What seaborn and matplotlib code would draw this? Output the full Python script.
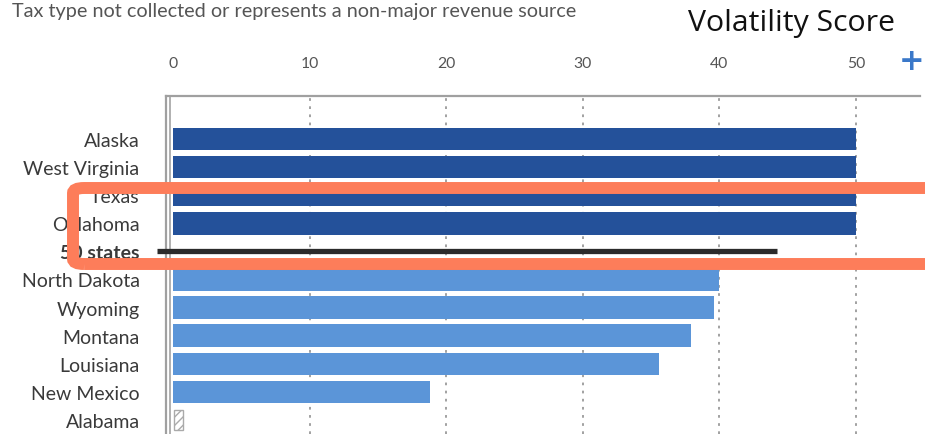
import matplotlib
matplotlib.use("Agg")
import matplotlib.pyplot as plt
from matplotlib.patches import FancyBboxPatch
import seaborn as sns
import pandas as pd
import numpy as np

# ---- data ----
states = ["Alaska", "West Virginia", "Texas", "Oklahoma", "50 states",
          "North Dakota", "Wyoming", "Montana", "Louisiana", "New Mexico", "Alabama"]
scores = [50, 50, 50, 50, 44.2, 40.0, 39.6, 37.9, 35.6, 18.8, np.nan]
groups = ["top", "top", "top", "top", "avg", "high", "high", "high", "high", "high", "none"]
placeholder_width = 0.7          # hatched "not collected" marker for Alabama
xticks = [0, 10, 20, 30, 40, 50]
note_text = "Tax type not collected or represents a non-major revenue source"
title_text = "Volatility Score"

palette = {"top": "#24519a", "high": "#5b95d8"}

sns.set_theme(style="white")
plt.rcParams["font.family"] = ["Lato", "DejaVu Sans"]

df = pd.DataFrame({"state": states, "score": scores, "group": groups})
bars = df[df["group"].isin(["top", "high"])]

fig = plt.figure(figsize=(9.25, 4.35), dpi=100)
ax = fig.add_axes([166 / 925, 0.0, (920 - 166) / 925, 1 - 97 / 435])

sns.barplot(data=bars, x="score", y="state", hue="group", order=states,
            palette=palette, dodge=False, orient="h", width=0.8, saturation=1,
            edgecolor="none", legend=False, ax=ax, zorder=3)

# 50 states average line
avg = df[df["group"] == "avg"].iloc[0]
ax.hlines(states.index(avg["state"]), -1.2, avg["score"], color="#2b2b2b",
          lw=3.8, zorder=4, clip_on=False)

# hatched placeholder (not collected)
nc = df[df["group"] == "none"].iloc[0]
ax.barh(states.index(nc["state"]), placeholder_width, height=0.68, left=0.05,
        facecolor="white", edgecolor="#aaaaaa", hatch="////", lw=1.0, zorder=3)

ax.set_xlim(-0.51, 54.7)
ax.set_ylim(10.5, -1.53)

# grid
for t in xticks[1:]:
    ax.axvline(t, color="#9a9a9a", lw=1.3, ls=(0, (1.5, 3)), zorder=1)
ax.axvline(-0.22, color="#b0b0b0", lw=1.4, zorder=2)

ax.xaxis.tick_top()
ax.set_xticks(xticks)
ax.set_xticklabels([str(t) for t in xticks], color="#555555", fontsize=11.3)
ax.tick_params(axis="x", length=0, pad=19)
ax.tick_params(axis="y", length=0, pad=19)
for lab in ax.get_yticklabels():
    lab.set_fontsize(14)
    lab.set_color("#3a3a3a")
    if lab.get_text() == "50 states":
        lab.set_fontweight("bold")
ax.set_xlabel("")
ax.set_ylabel("")

for s in ["right", "bottom"]:
    ax.spines[s].set_visible(False)
for s in ["top", "left"]:
    ax.spines[s].set_color("#a0a0a0")
    ax.spines[s].set_linewidth(1.6)

# texts
fig.text(12 / 925, 1 - 11 / 435, note_text, fontsize=14.3, color="#555555",
         ha="left", va="center")
fig.text(791 / 925, 1 - 23 / 435, title_text, fontsize=21.8, color="#111111",
         ha="center", va="center", family=["Open Sans", "DejaVu Sans"])
fig.text(912 / 925, 1 - 61 / 435, "+", fontsize=22, color="#3a78c9",
         ha="center", va="center", fontweight="bold", family=["DejaVu Sans"])

# orange highlight box
box = FancyBboxPatch((73 / 925, 1 - 265 / 435), (940 - 73) / 925, (265 - 189) / 435,
                     boxstyle="round,pad=0,rounding_size=0.012",
                     transform=fig.transFigure, fill=False,
                     edgecolor="#fd7d5a", lw=8.6, zorder=10, clip_on=False)
fig.patches.append(box)

fig.savefig("out.png", dpi=100)
